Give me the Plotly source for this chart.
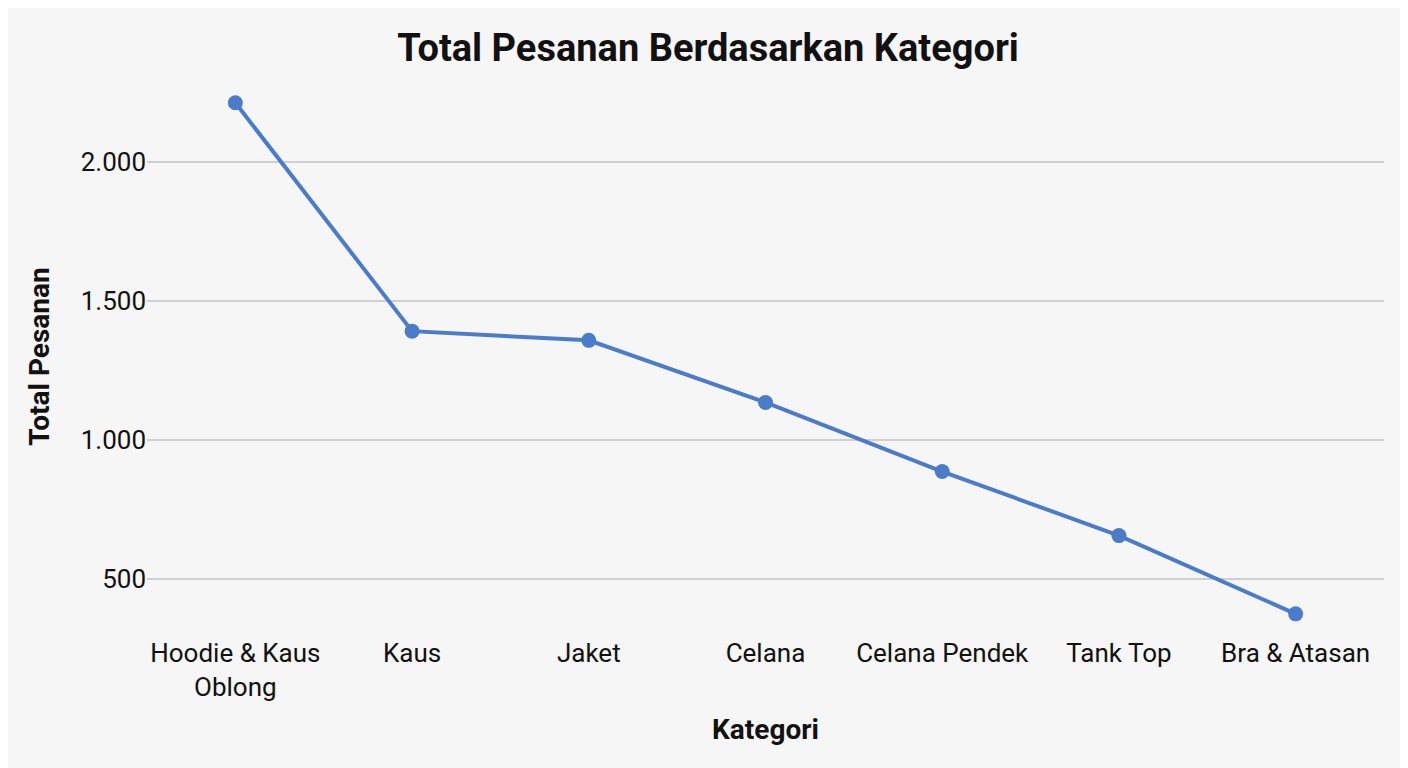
import plotly.graph_objects as go

categories = ["Hoodie & Kaus<br>Oblong", "Kaus", "Jaket", "Celana", "Celana Pendek", "Tank Top", "Bra & Atasan"]
orders = [2211, 1391, 1358, 1135, 887, 657, 376]
tick_vals = [500, 1000, 1500, 2000]

fig = go.Figure(go.Scatter(
    x=categories, y=orders, mode="lines+markers",
    line=dict(color="#4a7cc9", width=4),
    marker=dict(size=15, color="#4a7cc9"),
))
fig.update_layout(
    width=1400, height=760,
    margin=dict(l=139, r=24, t=70, b=133),
    paper_bgcolor="#f6f6f6", plot_bgcolor="rgba(0,0,0,0)",
    separators=",.",
    title=dict(text="<b>Total Pesanan Berdasarkan Kategori</b>", x=0.5, y=0.965,
               xanchor="center", font=dict(family="Roboto", size=38, color="#111")),
    font=dict(family="Roboto", color="#111"),
    showlegend=False,
)
fig.update_xaxes(range=[-0.5, 6.5], showgrid=False, tickfont=dict(size=26),
                 title=dict(text="<b>Kategori</b>", font=dict(size=28), standoff=18), ticks="", ticklen=20)
fig.update_yaxes(range=[300, 2300], tickvals=tick_vals, tickformat=",d", tickfont=dict(size=26),
                 gridcolor="#cfcfcf", gridwidth=2, zeroline=False,
                 title=dict(text="<b>Total Pesanan</b>", font=dict(size=28), standoff=22))
fig.write_html("out.html")
